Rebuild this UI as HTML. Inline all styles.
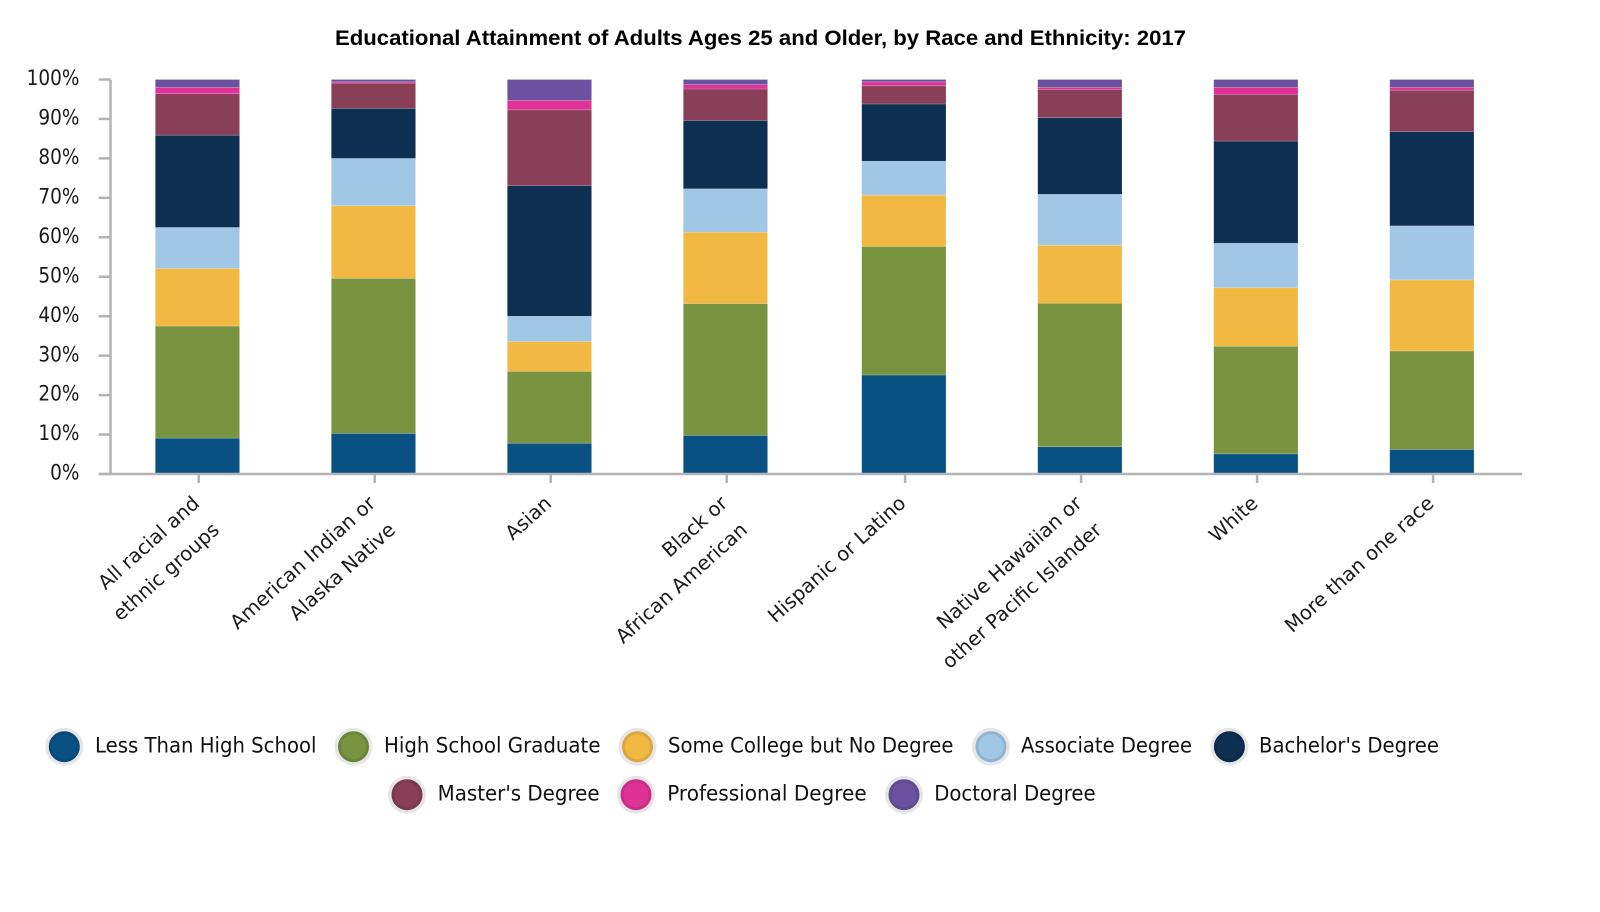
<!DOCTYPE html>
<html lang="en">
<head>
<meta charset="utf-8">
<title>Educational Attainment of Adults Ages 25 and Older, by Race and Ethnicity: 2017</title>
<style>
html,body{margin:0;padding:0;background:#fff;}
svg{display:block;}
text{font-family:"DejaVu Sans","Liberation Sans",sans-serif;fill:#1a1a1a;}
#chart-title{font-family:"Liberation Sans",sans-serif;font-weight:700;fill:#000;font-size:21px;}
.ytick{font-size:21px;}
.xlabel{font-size:19.7px;}
.legend-text{font-size:21px;fill:#111;}
</style>
</head>
<body>
<svg id="chart" xmlns="http://www.w3.org/2000/svg" width="1600" height="912" viewBox="0 0 1600 912">
  <rect x="0" y="0" width="1600" height="912" fill="#ffffff"/>
  <text id="chart-title" x="335" y="45" textLength="851" lengthAdjust="spacingAndGlyphs">Educational Attainment of Adults Ages 25 and Older, by Race and Ethnicity: 2017</text>
  <g id="bars"></g>
  <g id="axes"></g>
  <g id="legend">
    <g><circle cx="64.3" cy="746.7" r="19" fill="#e6e6e6"/><circle cx="64.3" cy="746.7" r="14" fill="#0a5183" stroke="#0a4a78" stroke-width="3"/><text class="legend-text" x="95" y="752.5" textLength="221.5" lengthAdjust="spacingAndGlyphs">Less Than High School</text></g>
    <g><circle cx="353.5" cy="746.7" r="19" fill="#e6e6e6"/><circle cx="353.5" cy="746.7" r="14" fill="#789440" stroke="#6a8439" stroke-width="3"/><text class="legend-text" x="384" y="752.5" textLength="216.5" lengthAdjust="spacingAndGlyphs">High School Graduate</text></g>
    <g><circle cx="637.5" cy="746.7" r="19" fill="#e6e6e6"/><circle cx="637.5" cy="746.7" r="14" fill="#f1b942" stroke="#d9a73b" stroke-width="3"/><text class="legend-text" x="668" y="752.5" textLength="285.5" lengthAdjust="spacingAndGlyphs">Some College but No Degree</text></g>
    <g><circle cx="991" cy="746.7" r="19" fill="#e6e6e6"/><circle cx="991" cy="746.7" r="14" fill="#a1c7e7" stroke="#90b3d0" stroke-width="3"/><text class="legend-text" x="1021" y="752.5" textLength="171" lengthAdjust="spacingAndGlyphs">Associate Degree</text></g>
    <g><circle cx="1229.4" cy="746.7" r="19" fill="#e6e6e6"/><circle cx="1229.4" cy="746.7" r="14" fill="#0d2f52" stroke="#0c2a4a" stroke-width="3"/><text class="legend-text" x="1259" y="752.5" textLength="180" lengthAdjust="spacingAndGlyphs">Bachelor's Degree</text></g>
    <g><circle cx="407" cy="794.7" r="19" fill="#e6e6e6"/><circle cx="407" cy="794.7" r="14" fill="#893f57" stroke="#7b394e" stroke-width="3"/><text class="legend-text" x="437.6" y="800.5" textLength="162" lengthAdjust="spacingAndGlyphs">Master's Degree</text></g>
    <g><circle cx="636" cy="794.7" r="19" fill="#e6e6e6"/><circle cx="636" cy="794.7" r="14" fill="#df3295" stroke="#c92d86" stroke-width="3"/><text class="legend-text" x="667.2" y="800.5" textLength="199.5" lengthAdjust="spacingAndGlyphs">Professional Degree</text></g>
    <g><circle cx="904" cy="794.7" r="19" fill="#e6e6e6"/><circle cx="904" cy="794.7" r="14" fill="#6b52a0" stroke="#604a90" stroke-width="3"/><text class="legend-text" x="934.2" y="800.5" textLength="161.5" lengthAdjust="spacingAndGlyphs">Doctoral Degree</text></g>
  </g>
</svg>
<script>
const categories = [
  ["All racial and", "ethnic groups"],
  ["American Indian or", "Alaska Native"],
  ["Asian"],
  ["Black or", "African American"],
  ["Hispanic or Latino"],
  ["Native Hawaiian or", "other Pacific Islander"],
  ["White"],
  ["More than one race"]
];
const yTicks = [0, 10, 20, 30, 40, 50, 60, 70, 80, 90, 100];
const lessThanHighSchool = [9.1, 10.3, 7.8, 9.8, 25.1, 6.9, 5.1, 6.2];
const highSchoolGraduate = [28.4, 39.3, 18.2, 33.4, 32.6, 36.4, 27.3, 25.0];
const someCollege = [14.6, 18.4, 7.6, 18.1, 13.0, 14.7, 14.8, 18.0];
const associateDegree = [10.4, 12.0, 6.4, 11.0, 8.6, 12.9, 11.3, 13.7];
const bachelorsDegree = [23.4, 12.7, 33.1, 17.3, 14.5, 19.4, 25.9, 23.9];
const mastersDegree = [10.5, 6.4, 19.2, 8.0, 4.6, 7.2, 11.8, 10.5];
const professionalDegree = [1.6, 0.3, 2.4, 1.1, 1.0, 0.5, 1.8, 0.7];
const doctoralDegree = [2.0, 0.6, 5.3, 1.3, 0.6, 2.0, 2.0, 2.0];
const seriesNames = ["less-than-high-school", "high-school-graduate", "some-college", "associate-degree", "bachelors-degree", "masters-degree", "professional-degree", "doctoral-degree"];
const seriesValues = [lessThanHighSchool, highSchoolGraduate, someCollege, associateDegree, bachelorsDegree, mastersDegree, professionalDegree, doctoralDegree];
const seriesColors = ["#0a5183", "#789440", "#f1b942", "#a1c7e7", "#0d2f52", "#893f57", "#df3295", "#6b52a0"];

const NS = "http://www.w3.org/2000/svg";
const barWidth = 84.3;
const axisColor = "#b3b3b3";
const axisWidth = 2.5;
function yScale(v) { return 474 - 3.945 * v; }
function bandLeft(i) { return 155.3 + 176 * i + (i >= 4 ? 2.4 : 0); }
function tickX(i) { return bandLeft(i) + 43.4; }
function make(tag, attrs) {
  const el = document.createElementNS(NS, tag);
  for (const k in attrs) el.setAttribute(k, attrs[k]);
  return el;
}

const barsGroup = document.getElementById("bars");
categories.forEach(function (cat, i) {
  let cumulative = 0;
  seriesValues.forEach(function (values, s) {
    const v = values[i];
    const top = yScale(cumulative + v);
    const bottom = yScale(cumulative);
    const rect = make("rect", { x: bandLeft(i), y: top, width: barWidth, height: bottom - top, fill: seriesColors[s], stroke: "#ffffff", "stroke-opacity": 0.3, "stroke-width": 0.6 });
    
    
    barsGroup.appendChild(rect);
    cumulative += v;
  });
});

const axes = document.getElementById("axes");
const yAxis = make("line", { x1: 110.5, x2: 110.5, y1: yScale(100), y2: yScale(0), stroke: axisColor, "stroke-width": axisWidth });


axes.appendChild(yAxis);
const xAxis = make("line", { x1: 98.7, x2: 1522, y1: yScale(0), y2: yScale(0), stroke: axisColor, "stroke-width": axisWidth });


axes.appendChild(xAxis);

yTicks.forEach(function (t) {
  const y = yScale(t);
  const tick = make("line", { x1: 98.7, x2: 110.5, y1: y, y2: y, stroke: axisColor, "stroke-width": axisWidth });
  
  
  axes.appendChild(tick);
  const label = make("text", { class: "ytick", x: 79.5, y: y + 5.6, "text-anchor": "end" });
  
  
  label.textContent = t + "%";
  axes.appendChild(label);
  label.setAttribute('textLength', label.getComputedTextLength() * 0.88);
  label.setAttribute('lengthAdjust', 'spacingAndGlyphs');
});

categories.forEach(function (lines, i) {
  const x = tickX(i);
  const tick = make("line", { x1: x, x2: x, y1: yScale(0), y2: 483, stroke: axisColor, "stroke-width": axisWidth });
  
  
  axes.appendChild(tick);
  const label = make("text", { class: "xlabel", "text-anchor": "end", transform: "translate(" + (x + 2) + ",505) rotate(-42)" });
  
  
  lines.forEach(function (line, n) {
    const span = make("tspan", { x: n * -3, y: n * 33 });
    span.textContent = line;
    label.appendChild(span);
  });
  axes.appendChild(label);
});
</script>
</body>
</html>
